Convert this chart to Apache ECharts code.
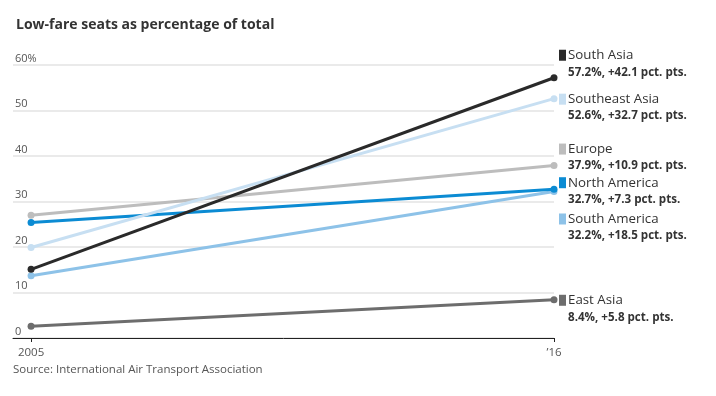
<!DOCTYPE html>
<html>
<head>
<meta charset="utf-8">
<script src="https://cdn.jsdelivr.net/npm/echarts@6/dist/echarts.min.js"></script>
<style>
  html, body { margin: 0; padding: 0; background: #fff; }
  #chart { width: 716px; height: 396px; }
</style>
</head>
<body>
<div id="chart"></div>
<script>
// regions, drawn in this order (last one on top)
const regions = ['East Asia', 'South America', 'Europe', 'North America', 'Southeast Asia', 'South Asia']
const share2005 = [2.6, 13.7, 27.0, 25.4, 19.9, 15.1]
const share2016 = [8.4, 32.2, 37.9, 32.7, 52.6, 57.2]
const colors = ['#6d6d6d', '#8dc2e8', '#bdbdbd', '#0b8bd3', '#c7dff2', '#2a2a2a']
// vertical nudge of each end label so they don't overlap
const labelShift = [9, 36, -8, 2, 9, -14]
const years = [2005, 2016]
const yearLabels = { 2005: '2005', 2016: '\u201916' }
const yTicks = [0, 10, 20, 30, 40, 50, 60]

const font = '"Open Sans", "Noto Sans", sans-serif'

const series = regions.map(function (name, i) {
  const change = (share2016[i] - share2005[i]).toFixed(1)
  return {
    name: name,
    type: 'line',
    data: [[years[0], share2005[i]], [years[1], share2016[i]]],
    symbol: 'circle',
    symbolSize: 7,
    lineStyle: { width: 3, color: colors[i] },
    itemStyle: { color: colors[i] },
    z: 2 + i,
    endLabel: {
      show: true,
      distance: 5,
      offset: [0, labelShift[i]],
      formatter: function () {
        return '{sq|}{nm|' + name + '}\n{val|' + share2016[i].toFixed(1) + '%, +' + change + ' pct. pts.}'
      },
      rich: {
        sq: { width: 7, height: 11, backgroundColor: colors[i], padding: 0 },
        nm: { fontFamily: font, fontSize: 13.3, color: '#333', padding: [0, 0, 0, 2], lineHeight: 17 },
        val: { fontFamily: font, fontSize: 11.6, fontWeight: 'bold', color: '#333', padding: [0, 0, 0, 9], lineHeight: 17 }
      }
    }
  }
})

const chart = echarts.init(document.getElementById('chart'))
chart.setOption({
  animation: false,
  textStyle: { fontFamily: font },
  title: {
    text: 'Low-fare seats as percentage of total',
    left: 11,
    top: 13,
    textStyle: { fontFamily: font, fontSize: 14, fontWeight: 'bold', color: '#333' }
  },
  graphic: [{
    type: 'text',
    left: 13,
    top: 364,
    style: { text: 'Source: International Air Transport Association', fontFamily: font, fontSize: 11.5, fill: '#555' }
  }],
  grid: { left: 13, right: 162, top: 65, bottom: 58 },
  xAxis: {
    type: 'value',
    min: 2004.62,
    max: 2016,
    splitLine: { show: false },
    axisLine: { show: true, lineStyle: { color: '#222', width: 1 } },
    axisTick: { show: true, customValues: years, length: 4, lineStyle: { color: '#222' } },
    axisLabel: {
      customValues: years,
      formatter: function (v) { return yearLabels[v] },
      color: '#555',
      fontSize: 11.5,
      margin: 9
    }
  },
  yAxis: {
    type: 'value',
    min: 0,
    max: 60,
    interval: 10,
    axisLine: { show: false },
    axisTick: { show: false },
    splitLine: { lineStyle: { color: '#e3e3e3', width: 1.5 } },
    axisLabel: {
      inside: true,
      margin: 2,
      verticalAlign: 'bottom',
      padding: [0, 0, 1, 0],
      color: '#555',
      fontSize: 11,
      customValues: yTicks,
      formatter: function (v) { return v === 60 ? v + '%' : String(v) }
    }
  },
  series: series
})
</script>
</body>
</html>
